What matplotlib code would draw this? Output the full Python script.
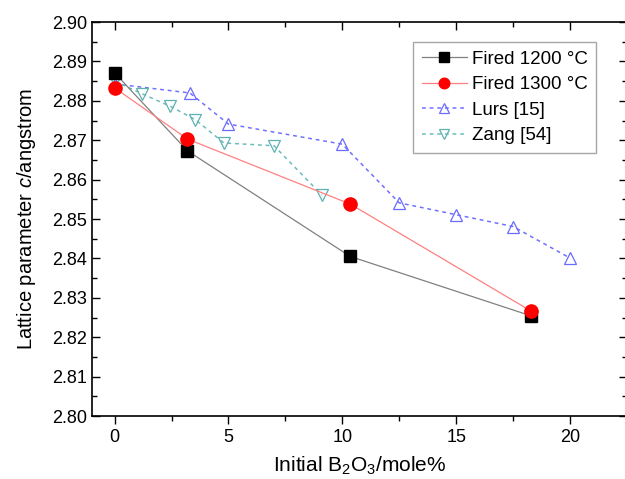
import numpy as np
import matplotlib
matplotlib.use('Agg')
import matplotlib.pyplot as plt
from matplotlib.ticker import MultipleLocator

plt.rcParams['font.family'] = ['Liberation Sans', 'DejaVu Sans']
plt.rcParams['mathtext.fontset'] = 'custom'
plt.rcParams['mathtext.rm'] = 'Liberation Sans'
plt.rcParams['mathtext.it'] = 'Liberation Sans:italic'

# data
x_1200 = [0, 3.2, 10.35, 18.3]
c_1200 = [2.8871, 2.8673, 2.8405, 2.8254]
x_1300 = [0, 3.2, 10.35, 18.3]
c_1300 = [2.8833, 2.8703, 2.8538, 2.8266]
x_lurs = [0, 3.3, 5, 10, 12.5, 15, 17.5, 20]
c_lurs = [2.8843, 2.8820, 2.8741, 2.8690, 2.8541, 2.8511, 2.8481, 2.8401]
x_zang = [0, 1.2, 2.45, 3.55, 4.8, 7.0, 9.1]
c_zang = [2.8850, 2.8818, 2.8786, 2.8752, 2.8693, 2.8686, 2.8561]

fig = plt.figure(figsize=(6.25, 4.79), dpi=100)
ax = fig.add_axes([0.147, 0.1315, 0.856, 0.8225])

ax.plot(x_1200, c_1200, color='#808080', lw=0.9, marker='s', ms=8.5,
        mfc='black', mec='black', label='Fired 1200 °C', zorder=4)
ax.plot(x_1300, c_1300, color='#ff8080', lw=0.9, marker='o', ms=9.5,
        mfc='red', mec='red', label='Fired 1300 °C', zorder=5)
ax.plot(x_lurs, c_lurs, color='#7070ff', lw=1.1, ls=(0, (2.5, 2.5)), marker='^', ms=8.5,
        mfc='none', mec='#6a6aff', mew=0.9, label='Lurs [15]', zorder=3)
ax.plot(x_zang, c_zang, color='#6cbcbc', lw=1.1, ls=(0, (2.5, 2.5)), marker='v', ms=8.5,
        mfc='none', mec='#5fb0b0', mew=0.9, label='Zang [54]', zorder=3)

ax.set_xlim(-1, 22.5)
ax.set_ylim(2.80, 2.90)
ax.xaxis.set_major_locator(MultipleLocator(5))
ax.xaxis.set_minor_locator(MultipleLocator(2.5))
ax.yaxis.set_major_locator(MultipleLocator(0.01))
ax.yaxis.set_minor_locator(MultipleLocator(0.005))
ax.yaxis.set_major_formatter(matplotlib.ticker.FormatStrFormatter('%.2f'))

ax.tick_params(axis='x', which='both', direction='out', top=True, labelsize=13)
ax.tick_params(axis='y', which='both', direction='in', right=True, labelsize=13)
ax.tick_params(which='major', length=6, width=1)
ax.tick_params(which='minor', length=3.5, width=1)
# top ticks point inward
for t in ax.xaxis.get_major_ticks() + ax.xaxis.get_minor_ticks():
    t.tick2line.set_marker(matplotlib.lines.TICKDOWN)

for s in ax.spines.values():
    s.set_linewidth(1.2)

ax.set_xlabel('Initial B$_2$O$_3$/mole%', fontsize=15, labelpad=6)
ax.set_ylabel('Lattice parameter $\\it{c}$/angstrom', fontsize=14.5, labelpad=10)

leg = ax.legend(loc='upper right', bbox_to_anchor=(0.942, 0.949), borderaxespad=0,
                fontsize=13.5, frameon=True, fancybox=False, edgecolor='#909090',
                handlelength=2.4, labelspacing=0.45, borderpad=0.45, handletextpad=0.25,
                markerscale=0.8)
leg.get_frame().set_linewidth(1.0)

fig.savefig('out.png', dpi=100)
